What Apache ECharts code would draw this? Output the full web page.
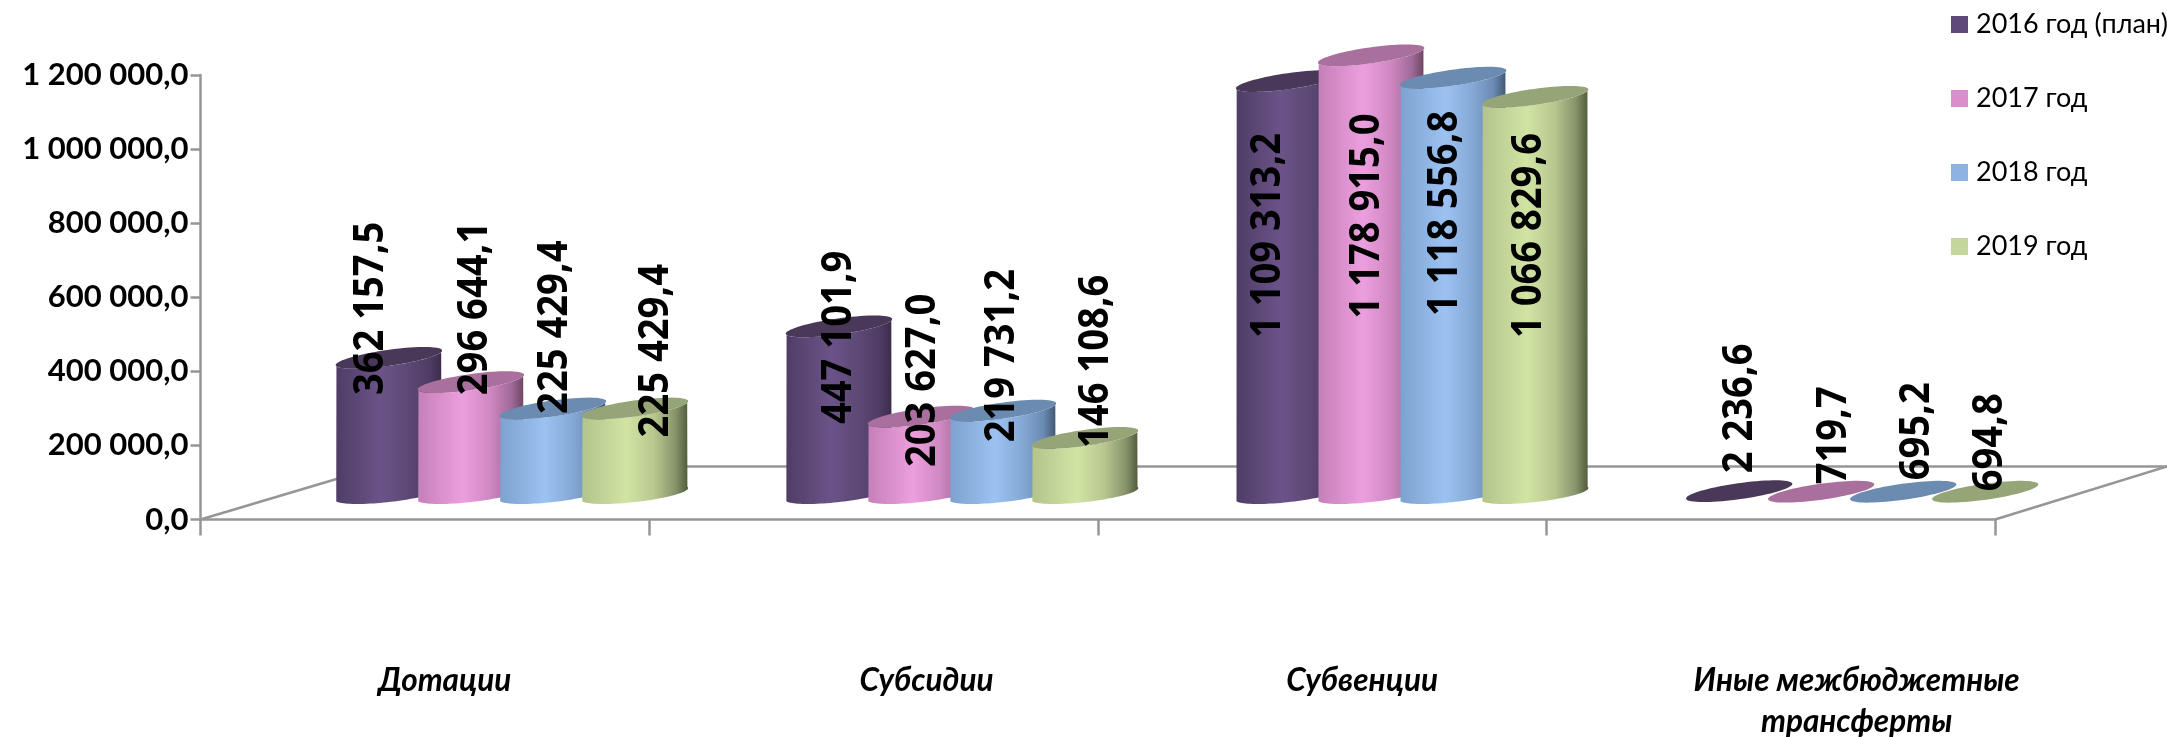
<!DOCTYPE html>
<html><head><meta charset="utf-8">
<style>html,body{margin:0;padding:0;background:#fff}#c{width:2167px;height:737px}</style>
<script src="https://cdn.jsdelivr.net/npm/echarts@6/dist/echarts.min.js"></script>
</head><body><div id="c"></div>
<script>
const categories = ['Дотации','Субсидии','Субвенции','Иные межбюджетные\nтрансферты'];
const seriesNames = ['2016 год (план)','2017 год','2018 год','2019 год'];
const values2016 = [362157.5, 447101.9, 1109313.2, 2236.6];
const values2017 = [296644.1, 203627.0, 1178915.0, 719.7];
const values2018 = [225429.4, 219731.2, 1118556.8, 695.2];
const values2019 = [225429.4, 146108.6, 1066829.6, 694.8];
const allValues = [values2016, values2017, values2018, values2019];
const yTicks = [0,200000,400000,600000,800000,1000000,1200000];

const palette = [
  {legend:'#5f497a', left:'#4f3d66', mid:'#6b5388', mid2:'#5d4876', dark:'#4f3c64', edge:'#3a2c4c', cap:'#4a3859'},
  {legend:'#da8fcc', left:'#c580b8', mid:'#ec9fde', mid2:'#cf88c2', dark:'#a06a98', edge:'#6b4560', cap:'#a96f9d'},
  {legend:'#8db3e2', left:'#7da2cf', mid:'#9bc2f2', mid2:'#85a9d6', dark:'#6a8ab2', edge:'#3f5670', cap:'#6c8bb0'},
  {legend:'#c3d69b', left:'#b3c48c', mid:'#d1e4a3', mid2:'#b7c78f', dark:'#87946b', edge:'#4f5a3a', cap:'#95a578'}
];
const labelDx = [[-17,0,-21,1],[5,2,-4,13],[3,-1,-8,14],[22,11,-6,5]];
const labelDy = [[-49.5,10.9,154.4,-82.8],[-73.6,-36.2,160.7,-56.4],[-81.3,-55,135.7,-60.5],[-57.8,-76.6,138.7,-49.5]];
const catLabelShift = [20,53,40,86];

const fmt = v => { const [i,d] = v.toFixed(1).split('.'); return i.replace(/\B(?=(\d{3})+$)/g,' ')+','+d; };

const topLift = 27.5, bottomLift = 25.5, step = 82, cylW = 107, topTilt = 8, bottomTilt = 6.5, minor = 8;

function ellipsePt(cx,cy,a,b,t,deg){
  const r = deg*Math.PI/180, x=a*Math.cos(t), y=b*Math.sin(t);
  return [cx+x*Math.cos(r)+y*Math.sin(r), cy-x*Math.sin(r)+y*Math.cos(r)];
}
function makeCylinder(si){
  const p = palette[si];
  return function(params, api){
    const cat = api.value(0), val = api.value(1);
    const base = api.coord([cat,0]), top = api.coord([cat,val]);
    const groupShift = 87 + 1.5*cat;
    const cx = base[0] + groupShift + (si-1.5)*step;
    const by = base[1] - bottomLift, ty = Math.min(top[1] - topLift, by);
    const a = cylW/2*1.003;
    const n = 48, lower=[];
    const t0 = Math.PI - 0.15, t1 = -0.15;
    for(let i=0;i<=n;i++){
      lower.push(ellipsePt(cx,by,a,minor,t0 - (t0-t1)*i/n,bottomTilt));
    }
    const bodyPts = lower.slice();
    for(let i=n;i>=0;i--){
      bodyPts.push(ellipsePt(cx,ty,a,minor,t0 - (t0-t1)*i/n,topTilt));
    }
    const capPts=[];
    for(let i=0;i<72;i++){ capPts.push(ellipsePt(cx,ty,a,minor,i/72*2*Math.PI,topTilt)); }
    const grad = {type:'linear',x:0,y:0,x2:1,y2:0,colorStops:[
      {offset:0,color:p.left},{offset:0.42,color:p.mid},{offset:0.68,color:p.mid2},{offset:0.88,color:p.dark},{offset:1,color:p.edge}]};
    const lx = cx + labelDx[si][params.dataIndex], ly = ty + labelDy[si][params.dataIndex];
    const flat = val < 10000;
    return {type:'group',children:[
      {type:'polygon',invisible:flat,shape:{points:bodyPts},style:{fill:grad}},
      {type:'polygon',shape:{points:capPts},style:{fill:p.cap}},
      {type:'text',x:lx,y:ly,rotation:Math.PI/2,scaleX:0.93,z2:100,style:{
        text:fmt(val),align:'center',verticalAlign:'middle',
        fontFamily:'"Open Sans"',fontWeight:'bold',fontSize:41,fill:'#000'}}
    ]};
  };
}

const series = [{
  type:'custom',silent:true,z:1,coordinateSystem:'cartesian2d',
  data:[[0,0]],
  renderItem:(params,api)=>{
    const a = api.coord([0,0]), s = api.size([1,0])[0];
    const ax=a[0]-s/2, ay=a[1], bx=ax+4*s;
    const d=53, back=178, right=172;
    const st={stroke:'#969696',lineWidth:2.5,fill:null};
    return {type:'group',children:[
      {type:'line',shape:{x1:ax,y1:ay,x2:ax+back,y2:ay-d},style:st},
      {type:'line',shape:{x1:ax+back,y1:ay-d,x2:bx+right,y2:ay-d},style:st},
      {type:'line',shape:{x1:bx,y1:ay,x2:bx+right,y2:ay-d},style:st}
    ]};
  },
  encode:{x:0,y:1}
}];
seriesNames.forEach((name,si)=>{
  series.push({
    name,type:'custom',z:2+si,
    itemStyle:{color:palette[si].legend},
    data:allValues[si].map((v,i)=>[i,v]),
    encode:{x:0,y:1},
    renderItem:makeCylinder(si)
  });
});

const chart = echarts.init(document.getElementById('c'),null,{renderer:'canvas'});
const rich = {};
catLabelShift.forEach((s,i)=>{ rich['c'+i]={padding:[0,0,0,2*s],fontFamily:'Lato, "Open Sans"',fontWeight:'bold',fontStyle:'italic',fontSize:31.5,color:'#000',lineHeight:41}; });
chart.setOption({
  animation:false,backgroundColor:'#fff',
  legend:{orient:'vertical',left:1951,top:11,padding:0,itemWidth:17,itemHeight:17,itemGap:47,icon:'rect',
    data:seriesNames,textStyle:{fontFamily:'Lato, "Open Sans"',fontSize:27,color:'#000',padding:[0,0,0,3]},itemStyle:{borderWidth:0}},
  grid:{left:200.5,right:172,top:75,bottom:217.5,containLabel:false,outerBoundsMode:'none'},
  xAxis:{type:'category',data:categories,
    axisLine:{lineStyle:{color:'#969696',width:2.5}},
    axisTick:{show:true,length:16,alignWithLabel:false,lineStyle:{color:'#969696',width:2.5}},
    axisLabel:{interval:0,margin:141,formatter:(v,i)=>v.split('\n').map(l=>`{c${i}|${l}}`).join('\n'),rich}},
  yAxis:{type:'value',min:0,max:1200000,interval:200000,
    axisLine:{show:true,lineStyle:{color:'#969696',width:2.5}},
    axisTick:{show:true,length:10,lineStyle:{color:'#969696',width:2.5}},
    splitLine:{show:false},
    axisLabel:{margin:12,padding:[3,0,0,0],formatter:fmt,fontFamily:'Lato, "Open Sans"',fontWeight:'bold',fontSize:31,color:'#000'}},
  series
});
</script></body></html>
